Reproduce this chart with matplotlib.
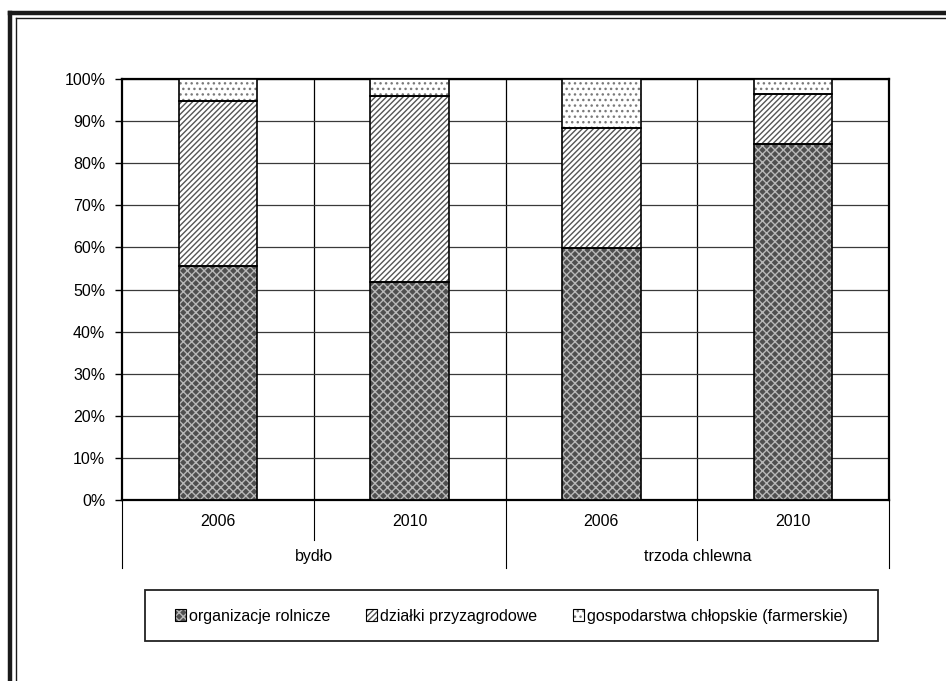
import matplotlib
matplotlib.use("Agg")
import matplotlib.pyplot as plt
from matplotlib.patches import Patch, Rectangle
from matplotlib.lines import Line2D
from matplotlib.legend_handler import HandlerTuple

plt.rcParams['font.family'] = ['Liberation Sans', 'DejaVu Sans']
plt.rcParams['font.size'] = 11.5

# data (shares in %)
years = ["2006", "2010", "2006", "2010"]
groups = ["bydło", "trzoda chlewna"]
organizacje = [55.7, 51.8, 59.9, 84.5]
dzialki = [39.0, 44.2, 28.4, 11.9]
gospodarstwa = [5.3, 4.0, 11.7, 3.6]
series_names = ["organizacje rolnicze", "działki przyzagrodowe",
                "gospodarstwa chłopskie (farmerskie)"]

# fill style for each series: face, hatch, hatch colour
styles = [("#4f4f4f", "xxxx", "#b8b8b8"),
          ("white", "//////", "#555555"),
          ("white", "...", "#7a7a7a")]

fig = plt.figure(figsize=(9.46, 6.81), dpi=100)
ax = fig.add_axes([122/946, 1-500/681, 767/946, 421/681])

x = list(range(len(years)))
w = 0.41
bottoms = [0]*len(x)
for vals, (fc, hatch, hc) in zip([organizacje, dzialki, gospodarstwa], styles):
    ax.bar(x, vals, w, bottom=bottoms, color=fc, hatch=hatch,
           edgecolor=hc, linewidth=0, zorder=3)
    ax.bar(x, vals, w, bottom=bottoms, fill=False, edgecolor='black',
           linewidth=1.2, zorder=4)
    bottoms = [b + v for b, v in zip(bottoms, vals)]

ax.set_xlim(-0.5, 3.5)
ax.set_ylim(0, 100)
ax.set_yticks(range(0, 101, 10))
ax.set_yticklabels([f"{t}%" for t in range(0, 101, 10)])
ax.tick_params(axis='y', length=5, width=1, direction='out', pad=7)
ax.set_xticks([])
ax.yaxis.grid(True, color='#3a3a3a', linewidth=0.9, zorder=0)
for xv in [0.5, 1.5, 2.5]:
    ax.axvline(xv, color='black', linewidth=0.9, zorder=1)
for s in ax.spines.values():
    s.set_linewidth(1.6)
    s.set_color('black')

# two-level category axis below the plot
tr = ax.get_xaxis_transform()
for xv, yb in [(-0.5, -0.162), (0.5, -0.095), (1.5, -0.162),
               (2.5, -0.095), (3.5, -0.162)]:
    ax.plot([xv, xv], [0, yb], transform=tr, color='black',
            linewidth=0.8, clip_on=False)
for xi, yr in zip(x, years):
    ax.text(xi, -0.052, yr, transform=tr, ha='center', va='center')
for gi, g in enumerate(groups):
    ax.text(0.5 + 2*gi, -0.135, g, transform=tr, ha='center', va='center')

# legend with a box drawn around it
handles = [(Patch(facecolor=fc, hatch=h, edgecolor=hc, linewidth=0),
            Patch(fill=False, edgecolor='black', linewidth=0.8))
           for fc, h, hc in styles]
fig.legend(handles, series_names, loc='center',
           bbox_to_anchor=(511.5/946, 1-616/681), ncol=3, frameon=False,
           handlelength=0.7, handleheight=0.7, handletextpad=0.2,
           columnspacing=2.2,
           handler_map={tuple: HandlerTuple(ndivide=1, pad=0)})
fig.patches.append(Rectangle((145/946, 1-641/681), 733/946, 51/681,
                             transform=fig.transFigure, fill=False,
                             edgecolor='#222222', linewidth=1.3))

# double frame on the left and top of the picture
fig.add_artist(Line2D([10/946, 10/946], [0, 1-13/681], transform=fig.transFigure,
                      color='#1a1a1a', linewidth=3.2))
fig.add_artist(Line2D([10/946, 1], [1-13/681, 1-13/681], transform=fig.transFigure,
                      color='#1a1a1a', linewidth=3.2))
fig.add_artist(Line2D([15.5/946, 15.5/946], [0, 1-17.5/681], transform=fig.transFigure,
                      color='#1a1a1a', linewidth=1.0))
fig.add_artist(Line2D([15.5/946, 1], [1-17.5/681, 1-17.5/681], transform=fig.transFigure,
                      color='#1a1a1a', linewidth=1.0))

fig.savefig("out.png", dpi=100)
